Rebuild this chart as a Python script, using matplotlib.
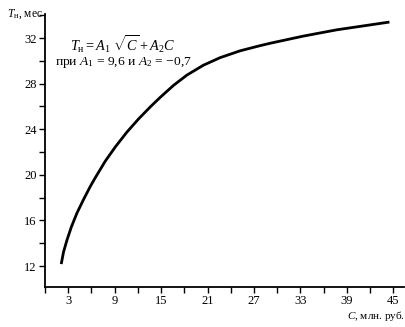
import matplotlib
matplotlib.use("Agg")
import matplotlib.pyplot as plt
from matplotlib.ticker import MultipleLocator

# Curve: C (млн. руб.) vs T_н (мес)
cost = [2.09, 2.39, 2.83, 3.39, 4.12, 4.98, 5.84, 6.49, 7.78, 9.08, 10.58, 12.08, 13.59,
        14.89, 16.61, 18.34, 20.48, 22.64, 25.23, 27.8, 29.1, 33.41, 37.72, 42.03, 44.52]
term = [12.18, 13.25, 14.28, 15.42, 16.65, 17.85, 18.98, 19.75, 21.2, 22.45, 23.75, 24.9, 25.95,
        26.8, 27.85, 28.75, 29.62, 30.28, 30.88, 31.33, 31.54, 32.17, 32.72, 33.15, 33.4]

x_major = [3, 9, 15, 21, 27, 33, 39, 45]
y_major = [12, 16, 20, 24, 28, 32]

plt.rcParams['font.family'] = ['Liberation Serif', 'DejaVu Serif']
plt.rcParams['mathtext.fontset'] = 'custom'
plt.rcParams['mathtext.rm'] = 'Liberation Serif'
plt.rcParams['mathtext.it'] = 'Liberation Serif:italic'
plt.rcParams['mathtext.bf'] = 'Liberation Serif:bold'

fig = plt.figure(figsize=(4.06, 3.27), dpi=100)
ax = fig.add_axes([0.111, 0.122, 0.884, 0.835])

ax.plot(cost, term, color='black', linewidth=2.0, solid_capstyle='butt', solid_joinstyle='round')

ax.set_xlim(0, 46.4)
ax.set_ylim(10.16, 34.1)
ax.set_xticks(x_major)
ax.set_yticks(y_major)
ax.xaxis.set_minor_locator(MultipleLocator(6))
ax.yaxis.set_minor_locator(MultipleLocator(2))
ax.tick_params(which='both', direction='out', length=4, width=1.0, labelsize=9, pad=2)

for side in ['top', 'right']:
    ax.spines[side].set_visible(False)
for side in ['left', 'bottom']:
    ax.spines[side].set_linewidth(1.3)

# axis titles
fig.text(0.017, 0.957, r'$T_{\rm н}$, мес', fontsize=8.3, va='center', ha='left')
fig.text(0.998, 0.035, r'$C$, млн. руб.', fontsize=8, va='center', ha='right')

# formula
ax.text(0.217, 0.892, r'$T_{\rm н} = A_1\ \sqrt{C} + A_2 C$', transform=ax.transAxes,
        fontsize=10.3, ha='center', va='center')
ax.text(0.217, 0.822, r'при $A_1$ = 9,6 и $A_2$ = −0,7', transform=ax.transAxes,
        fontsize=9.7, ha='center', va='center')

fig.savefig('out.png', dpi=100)
